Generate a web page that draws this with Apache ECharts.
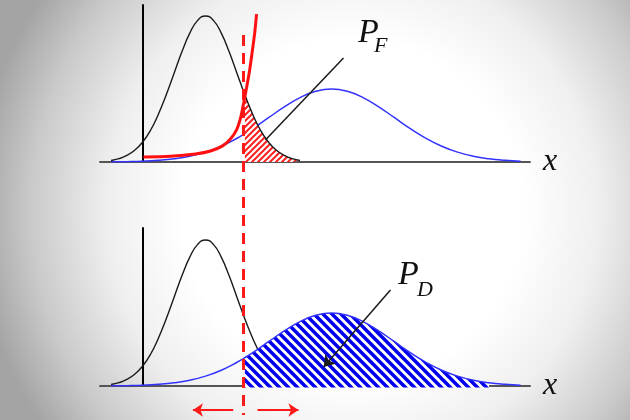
<!DOCTYPE html>
<html><head><meta charset="utf-8">
<script src="https://cdn.jsdelivr.net/npm/echarts@6/dist/echarts.min.js"></script>
<style>html,body{margin:0;padding:0;}#c{width:630px;height:420px;}</style>
</head><body><div id="c"></div>
<script>
// ---- data (x in units of the noise std-dev, y = probability density) ----
var threshold = 3.2;
var noiseX = [-1,-0.75,-0.5,-0.25,0,0.25,0.5,0.75,1,1.25,1.5,1.75,2,2.25,2.5,2.75,3,3.25,3.5,3.75,4,4.25,4.5,4.75,5];
var noiseY = [0.004,0.009,0.018,0.032,0.054,0.086,0.130,0.183,0.242,0.301,0.352,0.387,0.399,0.387,0.352,0.301,0.242,0.183,0.130,0.086,0.054,0.032,0.018,0.009,0.004];
var signalX = [-1,-0.5,0,0.5,1,1.5,2,2.5,3,3.25,3.5,4,4.5,5,5.5,6,6.5,7,7.5,8,8.5,9,9.5,10,10.5,11,11.5,12];
var signalY = [0.0004,0.0010,0.0022,0.0046,0.0088,0.0159,0.0270,0.0431,0.0648,0.0775,0.0913,0.1210,0.1506,0.1760,0.1933,0.1995,0.1933,0.1760,0.1506,0.1210,0.0913,0.0648,0.0431,0.0270,0.0159,0.0088,0.0046,0.0022];
var ratioX = [0.03,0.89,1.68,2.16,2.54,2.79,2.98,3.11,3.21,3.30,3.40,3.49,3.56,3.62];
var ratioY = [0.014,0.016,0.022,0.030,0.044,0.063,0.087,0.120,0.161,0.202,0.251,0.306,0.352,0.404];
var labelPF = ['P', 'F'];
var labelPD = ['P', 'D'];
var axisName = 'x';

function zip(xs, ys) { return xs.map(function (x, i) { return [x, ys[i]]; }); }
function hatch(color, size, width, dir) {
  var c = document.createElement('canvas'); c.width = size; c.height = size;
  var g = c.getContext('2d');
  g.fillStyle = '#ffffff'; g.fillRect(0, 0, size, size);
  g.strokeStyle = color; g.lineWidth = width; g.beginPath();
  for (var k = -1; k <= 1; k++) {
    if (dir === '\\') { g.moveTo(k * size - 1, -1); g.lineTo(k * size + size + 1, size + 1); }
    else { g.moveTo(k * size - 1, size + 1); g.lineTo(k * size + size + 1, -1); }
  }
  g.stroke();
  return c;
}
var noise = zip(noiseX, noiseY);
var signal = zip(signalX, signalY);
var ratio = zip(ratioX, ratioY);
var noiseTail = noise.filter(function (p) { return p[0] >= threshold; });
var signalTail = signal.filter(function (p) { return p[0] >= threshold && p[0] <= 11; });

var XMIN = -1.35, XMAX = 12.3;
var serif = "'Liberation Serif','DejaVu Serif',serif";
function xAx(idx) {
  return {
    gridIndex: idx, type: 'value', min: XMIN, max: XMAX,
    axisLine: { show: true, lineStyle: { color: '#555', width: 2 } },
    axisTick: { show: false }, axisLabel: { show: false }, splitLine: { show: false },
    name: axisName, nameLocation: 'end', nameGap: 13,
    nameTextStyle: { fontFamily: serif, fontStyle: 'italic', fontSize: 32, color: '#111', padding: [0, 0, 8, 0] }
  };
}
function yAx(idx, max) {
  return {
    gridIndex: idx, type: 'value', min: 0, max: max,
    axisLine: { show: true, onZero: true, lineStyle: { color: '#000', width: 2 } },
    axisTick: { show: false }, axisLabel: { show: false }, splitLine: { show: false }
  };
}

var option = {
  animation: false,
  backgroundColor: {
    type: 'radial', x: 0.56, y: 0.5, r: 0.9,
    colorStops: [
      { offset: 0, color: '#ffffff' }, { offset: 0.45, color: '#ffffff' },
      { offset: 0.65, color: '#efefef' }, { offset: 0.85, color: '#cacaca' },
      { offset: 1, color: '#a4a4a4' }
    ]
  },
  grid: [
    { left: 100, width: 430, top: 5, height: 157 },
    { left: 100, width: 430, top: 228, height: 158 },
    { left: 100, width: 430, top: 0, height: 420 }
  ],
  xAxis: [xAx(0), xAx(1), { gridIndex: 2, type: 'value', min: XMIN, max: XMAX, show: false }],
  yAxis: [yAx(0, 0.429), yAx(1, 0.4317), { gridIndex: 2, type: 'value', min: 0, max: 420, inverse: true, show: false }],
  series: [
    // top panel
    { type: 'line', xAxisIndex: 0, yAxisIndex: 0, z: 2, data: signal, smooth: true, showSymbol: false,
      lineStyle: { color: '#3333ff', width: 1.5 } },
    { type: 'line', xAxisIndex: 0, yAxisIndex: 0, z: 3, data: noiseTail, smooth: true, showSymbol: false,
      lineStyle: { width: 0 }, areaStyle: { color: { image: hatch('#ff2020', 6, 2, '/'), repeat: 'repeat' }, opacity: 1 } },
    { type: 'line', xAxisIndex: 0, yAxisIndex: 0, z: 4, data: noise, smooth: true, showSymbol: false,
      lineStyle: { color: '#1a1a1a', width: 1.4 },
      markLine: { silent: true, symbol: ['none', 'none'], label: { show: false },
        lineStyle: { color: '#1a1a1a', width: 1.5, type: 'solid' },
        data: [[{ coord: [6.38, 0.284] }, { coord: [3.9, 0.060] }]] } },
    { type: 'line', xAxisIndex: 0, yAxisIndex: 0, z: 5, data: ratio, smooth: 0.3, showSymbol: false,
      lineStyle: { color: '#ff1010', width: 3 } },
    // bottom panel
    { type: 'line', xAxisIndex: 1, yAxisIndex: 1, z: 2, data: noise, smooth: true, showSymbol: false,
      lineStyle: { color: '#1a1a1a', width: 1.4 } },
    { type: 'line', xAxisIndex: 1, yAxisIndex: 1, z: 3, data: signalTail, smooth: true, showSymbol: false, clip: false,
      lineStyle: { width: 0 }, areaStyle: { origin: -0.004, color: { image: hatch('#0000ee', 9, 3.5, '\\'), repeat: 'repeat' }, opacity: 1 } },
    { type: 'line', xAxisIndex: 1, yAxisIndex: 1, z: 4, data: signal, smooth: true, showSymbol: false,
      lineStyle: { color: '#3333ff', width: 1.5 },
      markLine: { silent: true, symbol: ['none', 'arrow'], symbolSize: 11, label: { show: false },
        lineStyle: { color: '#1a1a1a', width: 1.5, type: 'solid' },
        data: [[{ coord: [7.87, 0.262] }, { coord: [5.75, 0.052] }]] } },
    // overlay: threshold and arrows
    { type: 'line', xAxisIndex: 2, yAxisIndex: 2, z: 10, data: [], showSymbol: false,
      markLine: { silent: true, label: { show: false }, symbol: ['none', 'none'],
        data: [
          [{ coord: [threshold, 35], lineStyle: { color: '#ff1a1a', width: 3, type: [11, 7] } }, { coord: [threshold, 415] }],
          [{ coord: [threshold - 0.32, 410], symbol: 'none', lineStyle: { color: '#ff1a1a', width: 2, type: 'solid' } }, { coord: [threshold - 1.6, 410], symbol: 'arrow', symbolSize: 10 }],
          [{ coord: [threshold + 0.45, 410], symbol: 'none', lineStyle: { color: '#ff1a1a', width: 2, type: 'solid' } }, { coord: [threshold + 1.75, 410], symbol: 'arrow', symbolSize: 10 }]
        ] } }
  ],
  graphic: [
    { type: 'text', left: 358, top: 16, z: 20, style: { text: labelPF[0], font: 'italic 34px ' + serif, fill: '#111' } },
    { type: 'text', left: 374, top: 35, z: 20, style: { text: labelPF[1], font: 'italic 22px ' + serif, fill: '#111' } },
    { type: 'text', left: 398, top: 258, z: 20, style: { text: labelPD[0], font: 'italic 34px ' + serif, fill: '#111' } },
    { type: 'text', left: 417, top: 279, z: 20, style: { text: labelPD[1], font: 'italic 22px ' + serif, fill: '#111' } }
  ]
};
echarts.init(document.getElementById('c')).setOption(option);
</script></body></html>
